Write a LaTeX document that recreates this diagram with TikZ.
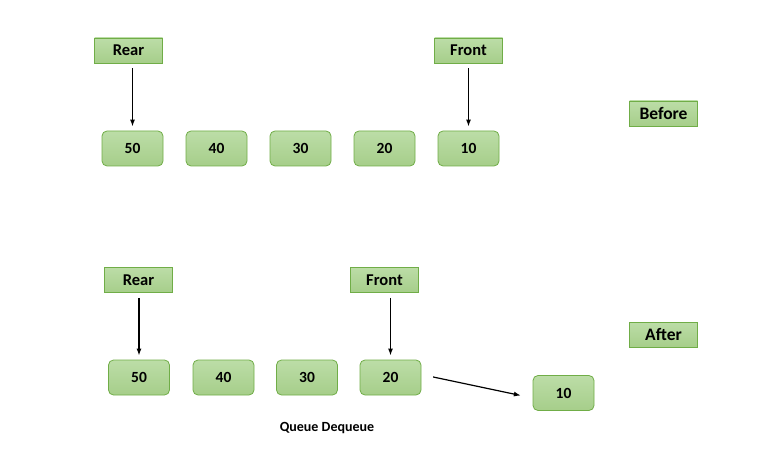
\documentclass[tikz,border=0pt]{standalone}
\usepackage{fontspec}
\setmainfont{Carlito}
\usepackage{tikz}
\usetikzlibrary{arrows.meta}

\definecolor{boxfill}{RGB}{166,206,138}
\definecolor{boxtop}{RGB}{188,221,167}
\definecolor{boxline}{RGB}{112,173,71}

\begin{document}
\begin{tikzpicture}[x=1pt,y=-1pt,
    valbox/.style={draw=boxline, line width=0.8pt, top color=boxtop, bottom color=boxfill,
      rounded corners=5pt, minimum width=61pt, minimum height=35pt, inner sep=0pt,
      font=\fontsize{15.5}{17}\selectfont\bfseries},
    tagbox/.style={draw=boxline, line width=0.8pt, top color=boxtop, bottom color=boxfill,
      minimum width=68pt, minimum height=25pt, inner sep=0pt,
      font=\fontsize{16.5}{18}\selectfont\bfseries},
    ptr/.style={-{Latex[length=7pt,width=5pt]}, line width=1.2pt, shorten <=5pt, shorten >=4pt}]
    \useasboundingbox (0,0) rectangle (776,462);
    % before
    \node[tagbox] (rearA) at (128.5,50.5) {Rear};
    \node[tagbox] (frontA) at (468.5,50.5) {Front};
    \node[tagbox, font=\fontsize{17.5}{19}\selectfont\bfseries] (before) at (663.5,113.5) {Before};
    \node[valbox] (a50) at (132.5,148.5) {50};
    \node[valbox] (a40) at (216.5,148.5) {40};
    \node[valbox] (a30) at (300.5,148.5) {30};
    \node[valbox] (a20) at (384.5,148.5) {20};
    \node[valbox] (a10) at (468.5,148.5) {10};
    \draw[ptr] (rearA.south -| a50.north) -- (a50.north);
    \draw[ptr] (frontA.south) -- (a10.north);
    % after
    \node[tagbox] (rearB) at (138.5,280) {Rear};
    \node[tagbox] (frontB) at (384.5,280) {Front};
    \node[tagbox, font=\fontsize{17.5}{19}\selectfont\bfseries] (after) at (663.5,334.5) {After};
    \node[valbox] (b50) at (139,377.5) {50};
    \node[valbox] (b40) at (223.5,377.5) {40};
    \node[valbox] (b30) at (307,377.5) {30};
    \node[valbox] (b20) at (390.5,377.5) {20};
    \node[valbox] (b10) at (563.5,393) {10};
    \draw[ptr] (rearB.south -| b50.north) -- (b50.north);
    \draw[ptr] (frontB.south -| b20.north) -- (b20.north);
    \draw[ptr, shorten <=12pt, shorten >=12pt] ([yshift=3pt]b20.east) -- ([yshift=-5pt]b10.west);
    \node[font=\fontsize{14}{16}\selectfont\bfseries] (title) at (327,428) {Queue Dequeue};
  \end{tikzpicture}
\end{document}
